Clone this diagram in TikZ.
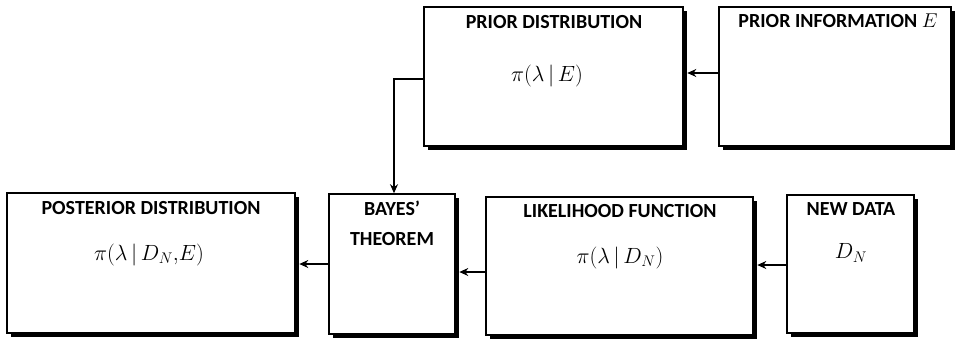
\RequirePackage{fix-cm}
\documentclass[tikz,border=0pt]{standalone}
\usepackage{fontspec}
\newfontfamily\titlefont{Carlito}
\usetikzlibrary{arrows.meta,shadows}
\tikzset{
    box/.style={rectangle,draw,line width=1.6pt,fill=white,
        drop shadow={shadow xshift=3.5pt,shadow yshift=-3.5pt,opacity=1,fill=black}},
    title/.style={font=\titlefont\bfseries\fontsize{20}{30}\selectfont,align=center,inner sep=0pt},
    formula/.style={font=\fontsize{22}{26}\selectfont,inner sep=0pt},
    flow/.style={line width=1.2pt,-{Stealth[length=9pt,width=8pt]}}
}

\begin{document}
\begin{tikzpicture}[x=1pt,y=-1pt]
    \useasboundingbox (0,0) rectangle (956,338);
    % top row
    \node[box,minimum width=259pt,minimum height=139pt] (prior) at (553.5,76.5) {};
    \node[box,minimum width=232pt,minimum height=139pt] (info) at (835,76.5) {};
    \node[title] (priortitle) at (554,22) {PRIOR DISTRIBUTION};
    \node[formula] (priorpdf) at (547,75.5) {$\pi(\lambda\,|\,E)$};
    \node[title] (infotitle) at (838,21) {PRIOR INFORMATION {\fontsize{20}{24}\selectfont$E$}};
    % bottom row
    \node[box,minimum width=288pt,minimum height=140pt] (posterior) at (151,263) {};
    \node[box,minimum width=126pt,minimum height=140pt] (bayes) at (392,264) {};
    \node[box,minimum width=267pt,minimum height=138pt] (likelihood) at (619.5,266) {};
    \node[box,minimum width=127pt,minimum height=138pt] (newdata) at (850.5,264) {};
    \node[title] (posteriortitle) at (151,208) {POSTERIOR DISTRIBUTION};
    \node[formula] (posteriorpdf) at (149,255) {$\pi(\lambda\,|\,D_N{,}E)$};
    \node[title] (bayestitle) at (392,223) {BAYES’\\THEOREM};
    \node[title] (likelihoodtitle) at (620,211) {LIKELIHOOD FUNCTION};
    \node[formula] (likelihoodpdf) at (620,258) {$\pi(\lambda\,|\,D_N)$};
    \node[title] (newdatatitle) at (851,209) {NEW DATA};
    \node[formula] (newdatapdf) at (851,253) {$D_N$};
    % arrows
    \draw[flow] ([yshift=3.5pt]info.west) -- ([xshift=3.5pt,yshift=3.5pt]prior.east);
    \draw[flow] ([yshift=-2.5pt]prior.west) -| ([xshift=2pt]bayes.north);
    \draw[flow] (bayes.west) -- ([xshift=3.5pt,yshift=-1pt]posterior.east);
    \draw[flow] ([yshift=-6pt]likelihood.west) -- ([xshift=3.5pt,yshift=-8pt]bayes.east);
    \draw[flow] ([yshift=-1pt]newdata.west) -- ([xshift=3.5pt,yshift=1pt]likelihood.east);
\end{tikzpicture}
\end{document}
